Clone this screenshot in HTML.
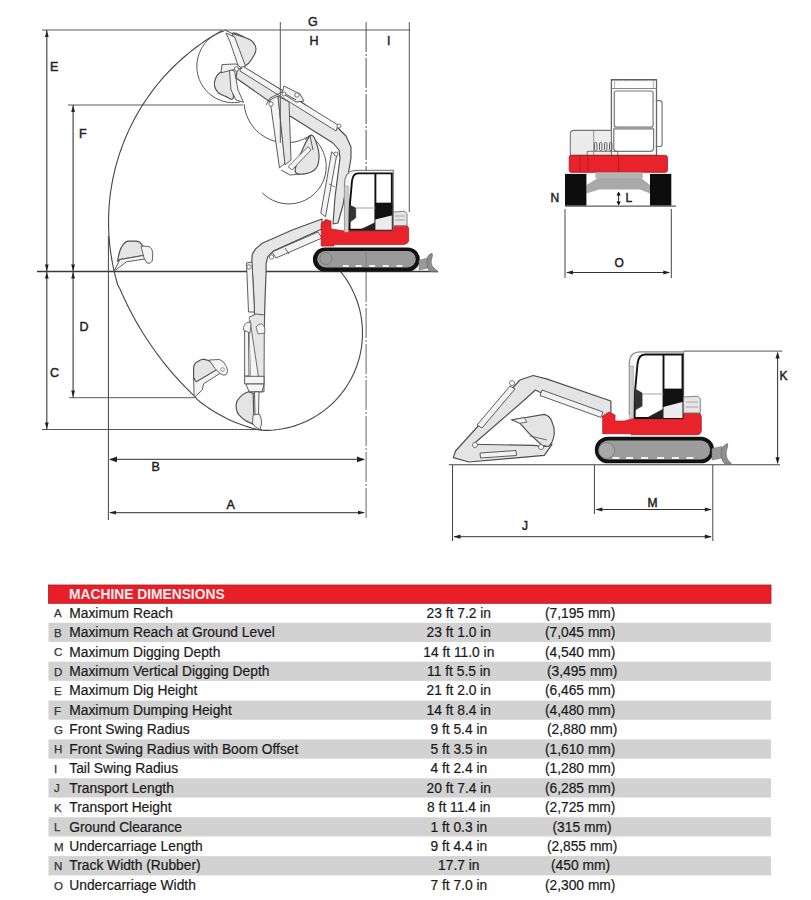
<!DOCTYPE html>
<html><head><meta charset="utf-8">
<style>
html,body{margin:0;padding:0;background:#fff;width:811px;height:900px;overflow:hidden}
svg{position:absolute;left:0;top:0;display:block}
text{font-family:"Liberation Sans",sans-serif}
</style></head>
<body>
<svg width="811" height="900" viewBox="0 0 811 900">
<line x1="42" y1="30" x2="410" y2="30" stroke="#5a5a5a" stroke-width="1.0" />
<line x1="68" y1="105" x2="243" y2="105" stroke="#5a5a5a" stroke-width="1.0" />
<line x1="37" y1="271.5" x2="438" y2="271.5" stroke="#3a3a3a" stroke-width="1.4" />
<line x1="69" y1="397.7" x2="194" y2="397.7" stroke="#5a5a5a" stroke-width="1.0" />
<line x1="42" y1="429.5" x2="262" y2="429.5" stroke="#5a5a5a" stroke-width="1.0" />
<line x1="46.8" y1="30" x2="46.8" y2="429.5" stroke="#3a3a3a" stroke-width="1.1" />
<line x1="73.1" y1="105" x2="73.1" y2="397.7" stroke="#3a3a3a" stroke-width="1.1" />
<path d="M46.8 30.5 L44.9 37.0 L48.7 37.0Z" fill="#222"/>
<path d="M46.8 271.0 L44.9 264.5 L48.7 264.5Z" fill="#222"/>
<path d="M46.8 272.0 L44.9 278.5 L48.7 278.5Z" fill="#222"/>
<path d="M46.8 429.0 L44.9 422.5 L48.7 422.5Z" fill="#222"/>
<path d="M73.1 105.5 L71.2 112.0 L75.0 112.0Z" fill="#222"/>
<path d="M73.1 271.0 L71.2 264.5 L75.0 264.5Z" fill="#222"/>
<path d="M73.1 272.0 L71.2 278.5 L75.0 278.5Z" fill="#222"/>
<path d="M73.1 397.0 L71.2 390.5 L75.0 390.5Z" fill="#222"/>
<line x1="108.4" y1="236" x2="108.4" y2="520" stroke="#444" stroke-width="1.0" />
<line x1="409.3" y1="22" x2="409.3" y2="212" stroke="#555" stroke-width="1.0" />
<line x1="110" y1="459.4" x2="364" y2="459.4" stroke="#555" stroke-width="1.2" />
<path d="M109.0 459.4 L117.0 456.5 L117.0 462.3Z" fill="#222"/>
<path d="M365.0 459.4 L357.0 456.5 L357.0 462.3Z" fill="#222"/>
<line x1="110" y1="512.6" x2="364" y2="512.6" stroke="#555" stroke-width="1.2" />
<path d="M109.0 512.6 L116.0 510.7 L116.0 514.5Z" fill="#222"/>
<path d="M365.0 512.6 L358.0 510.7 L358.0 514.5Z" fill="#222"/>
<text x="50" y="70.5" font-size="12.5" fill="#222" stroke="#222" stroke-width="0.45" text-anchor="start" font-weight="400">E</text>
<text x="79" y="138" font-size="12.5" fill="#222" stroke="#222" stroke-width="0.45" text-anchor="start" font-weight="400">F</text>
<text x="79.5" y="331" font-size="12.5" fill="#222" stroke="#222" stroke-width="0.45" text-anchor="start" font-weight="400">D</text>
<text x="50" y="377" font-size="12.5" fill="#222" stroke="#222" stroke-width="0.45" text-anchor="start" font-weight="400">C</text>
<text x="151.5" y="470.5" font-size="12.5" fill="#222" stroke="#222" stroke-width="0.45" text-anchor="start" font-weight="400">B</text>
<text x="226.5" y="508.5" font-size="12.5" fill="#222" stroke="#222" stroke-width="0.45" text-anchor="start" font-weight="400">A</text>
<text x="308" y="26" font-size="12.5" fill="#222" stroke="#222" stroke-width="0.45" text-anchor="start" font-weight="400">G</text>
<text x="309.5" y="45" font-size="12.5" fill="#222" stroke="#222" stroke-width="0.45" text-anchor="start" font-weight="400">H</text>
<text x="387" y="45" font-size="12.5" fill="#222" stroke="#222" stroke-width="0.45" text-anchor="start" font-weight="400">I</text>
<path d="M222.28 30.51 L217.95 32.93 L213.68 35.45 L209.47 38.07 L205.31 40.79 L201.22 43.60 L197.20 46.50 L193.24 49.49 L189.35 52.57 L185.54 55.73 L181.79 58.99 L178.12 62.32 L174.53 65.74 L171.02 69.25 L167.58 72.83 L164.23 76.48 L160.96 80.21 L157.78 84.02 L154.69 87.90 L151.68 91.84 L148.77 95.86 L145.94 99.94 L143.21 104.08 L140.58 108.28 L138.04 112.54 L135.60 116.86 L133.26 121.23 L131.01 125.66 L128.87 130.13 L126.83 134.65 L124.90 139.22 L123.07 143.83 L121.34 148.48 L119.72 153.17 L118.21 157.89 L116.80 162.65 L115.51 167.44 L114.32 172.25 L113.24 177.10 L112.27 181.96 L111.42 186.85 L110.67 191.75 L110.04 196.67 L109.51 201.60 L109.10 206.55 L108.81 211.50 L108.62 216.46 L108.55 221.42 L108.59 226.38 L108.75 231.33 L109.01 236.29 L109.39 241.23 L109.88 246.17 L110.48 251.09 L111.20 256.00 L112.03 260.89 L112.96 265.76 L114.01 270.61 L115.17 275.44 L116.43 280.23 L117.81 285.00 L120.10 289.19 L121.91 293.35 L123.78 297.49 L125.71 301.60 L127.69 305.68 L129.73 309.74 L131.83 313.76 L133.99 317.76 L136.20 321.72 L138.47 325.65 L140.80 329.55 L143.18 333.42 L145.61 337.25 L148.10 341.05 L150.64 344.81 L153.23 348.53 L155.88 352.22 L158.58 355.87 L161.33 359.48 L164.13 363.06 L166.98 366.59 L169.88 370.08 L172.83 373.53 L175.83 376.94 L178.88 380.30 L181.97 383.63 L185.11 386.90 L188.30 390.14 L191.53 393.33 L194.81 396.47 L197.11 399.41 L199.98 401.72 L202.91 403.96 L205.90 406.12 L208.93 408.22 L212.02 410.24 L215.16 412.18 L218.34 414.04 L221.57 415.82 L224.84 417.53 L228.15 419.15 L231.50 420.69 L234.89 422.15 L238.31 423.52 L241.77 424.81 L245.26 426.01 L248.77 427.13 L252.31 428.16 L255.88 429.10 L259.47 429.95 L264.12 430.39 L268.77 430.33 L273.42 430.05 L278.04 429.55 L282.63 428.83 L287.19 427.88 L291.69 426.72 L296.14 425.35 L300.51 423.77 L304.80 421.98 L309.01 419.98 L313.11 417.79 L317.10 415.40 L320.97 412.83 L324.72 410.07 L328.33 407.14 L331.80 404.04 L335.11 400.77 L338.27 397.36 L341.25 393.79 L344.07 390.09 L346.70 386.25 L349.15 382.30 L351.40 378.23 L353.46 374.06 L355.32 369.79 L356.97 365.45 L358.41 361.02 L359.64 356.54 L360.65 352.00 L361.44 347.41 L362.02 342.80 L362.37 338.16 L362.50 333.51 L362.41 328.86 L362.09 324.22 L361.56 319.60 L360.80 315.01 L359.83 310.46 L358.64 305.97 L357.24 301.53 L355.62 297.17 L353.80 292.89 L351.78 288.70 L349.56 284.61 L347.15 280.64 L344.54 276.78 L341.76 273.05 L338.81 269.46 L335.68 266.02" fill="none" stroke="#444" stroke-width="1.1" stroke-linejoin="round"/>
<path d="M224.27 31.06 L221.58 31.86 L218.97 32.85 L216.44 34.05 L214.00 35.43 L211.68 37.00 L209.49 38.74 L207.44 40.65 L205.55 42.71 L203.81 44.91 L202.25 47.23 L200.88 49.67 L199.69 52.21 L198.71 54.83 L197.93 57.52 L197.36 60.26 L197.00 63.04 L196.85 65.83 L196.92 68.63 L197.21 71.41 L197.71 74.17 L198.42 76.88 L199.34 79.52 L200.46 82.09 L201.77 84.56 L203.27 86.93 L204.95 89.17 L206.79 91.28 L208.79 93.23 L210.94 95.03 L213.21 96.66 L215.61 98.11 L218.11 99.37 L220.70 100.43 L223.36 101.29 L226.09 101.95 L228.85 102.39 L231.64 102.62 L234.44 102.63 L237.23 102.43 L240.00 102.01" fill="none" stroke="#555" stroke-width="1.0" stroke-linejoin="round"/>
<path d="M244.16 104.23 L244.51 107.14 L245.07 110.03 L245.82 112.87 L246.78 115.65 L247.92 118.36 L249.25 120.98 L250.76 123.50 L252.44 125.92 L254.28 128.20 L256.28 130.36 L258.42 132.37 L260.70 134.23 L263.11 135.92 L265.62 137.44 L268.23 138.78 L270.94 139.94 L273.71 140.91 L276.55 141.68 L279.43 142.25 L282.35 142.62 L285.28 142.79 L288.22 142.75 L291.15 142.51 L294.06 142.06 L296.92 141.42 L299.74 140.57 L302.49 139.53 L305.16 138.30 L307.74 136.89 L310.21 135.30" fill="none" stroke="#555" stroke-width="1.0" stroke-linejoin="round"/>
<path d="M310.15 135.79 L312.62 137.67 L314.93 139.75 L317.07 142.01 L319.00 144.44 L320.73 147.02 L322.24 149.74 L323.51 152.58 L324.55 155.51 L325.34 158.51 L325.87 161.57 L326.16 164.67 L326.18 167.78 L325.94 170.88 L325.45 173.95 L324.71 176.96 L323.71 179.91 L322.48 182.76 L321.01 185.50 L319.32 188.11 L317.42 190.57 L315.33 192.86 L313.05 194.98 L310.60 196.89 L308.00 198.60 L305.27 200.08 L302.42 201.33 L299.48 202.34 L296.47 203.10 L293.41 203.62 L290.31 203.87 L287.20 203.87 L284.10 203.60 L281.04 203.09 L278.03 202.31 L275.09 201.30 L272.25 200.04 L269.52 198.55 L266.93 196.84 L264.48 194.92 L262.21 192.80" fill="none" stroke="#555" stroke-width="1.0" stroke-linejoin="round"/>
<path d="M238.0 64.0 L300.0 101.0 L338.0 128.0 L346.0 136.0 L351.0 147.0 L351.0 158.0 L343.0 205.0 L338.0 223.0 L333.0 224.0 L335.0 197.0 L340.0 158.0 L339.0 150.0 L333.0 143.0 L290.0 116.0 L236.0 78.0Z" fill="#e6e6e6" stroke="#4d4d4d" stroke-width="1.15" stroke-linejoin="round" />
<path d="M241.0 65.0 L338.0 125.0 L336.0 131.0 L240.0 71.0Z" fill="#f5f5f5" stroke="#4d4d4d" stroke-width="0.9" stroke-linejoin="round" />
<path d="M284.0 86.0 L300.0 94.0 L304.0 101.0 L296.0 102.0 L282.0 93.0Z" fill="#f0f0f0" stroke="#4d4d4d" stroke-width="0.9" stroke-linejoin="round" />
<circle cx="297" cy="95" r="2.2" fill="#fff" stroke="#555" stroke-width="0.8"/>
<circle cx="339" cy="126" r="2" fill="#fff" stroke="#555" stroke-width="0.8"/>
<path d="M331.7 151.7 L336.5 156.0 L325.5 216.7 L320.8 213.3Z" fill="#f4f4f4" stroke="#4d4d4d" stroke-width="0.9" stroke-linejoin="round" />
<path d="M329.0 184.0 L335.0 187.0" fill="none" stroke="#4d4d4d" stroke-width="0.7" stroke-linejoin="round"/>
<circle cx="336" cy="154" r="2" fill="#fff" stroke="#555" stroke-width="0.8"/>
<path d="M233.0 33.0 C234.5 32.2 240.8 35.6 244.0 37.0 C247.2 38.4 250.3 39.2 252.3 41.3 C254.3 43.4 256.0 46.6 256.0 49.4 C256.0 52.2 253.9 55.7 252.3 58.3 C250.7 60.9 248.3 64.0 246.4 65.0 C244.5 66.0 242.9 67.8 241.0 64.0 C239.1 60.2 236.3 47.2 235.0 42.0 C233.7 36.8 231.5 33.8 233.0 33.0Z" fill="#e6e6e6" stroke="#4d4d4d" stroke-width="1.15"/>
<path d="M226.0 33.0 L234.6 37.0 L245.5 66.0 L239.0 68.0 L230.0 42.0Z" fill="#f4f4f4" stroke="#4d4d4d" stroke-width="0.9" stroke-linejoin="round" />
<path d="M224.6 29.8 L232.0 33.5 L244.0 37.0" fill="none" stroke="#4d4d4d" stroke-width="1" stroke-linejoin="round"/>
<path d="M229.4 69.0 C227.4 67.1 222.1 71.2 219.8 72.8 C217.5 74.4 216.3 76.5 215.4 78.7 C214.5 80.9 214.1 83.8 214.6 86.1 C215.1 88.4 216.5 91.0 218.3 92.7 C220.2 94.4 223.2 95.4 225.7 96.4 C228.2 97.4 232.0 100.7 233.1 98.6 C234.2 96.5 232.6 88.9 232.0 84.0 C231.4 79.1 231.4 70.9 229.4 69.0Z" fill="#e6e6e6" stroke="#4d4d4d" stroke-width="1.15"/>
<path d="M229.4 69.0 L234.6 71.3 L238.0 90.0 L243.5 102.3 L236.0 100.0 L231.0 90.0Z" fill="#f4f4f4" stroke="#4d4d4d" stroke-width="0.9" stroke-linejoin="round" />
<path d="M222.0 64.6 L236.0 63.9 L242.0 68.3 L232.0 70.0 L221.0 72.8Z" fill="#f0f0f0" stroke="#4d4d4d" stroke-width="0.9" stroke-linejoin="round" />
<circle cx="236.5" cy="69" r="2.2" fill="#fff" stroke="#555" stroke-width="0.8"/>
<path d="M270.0 100.0 L278.0 96.0 L285.0 163.0 L279.5 168.0Z" fill="#f4f4f4" stroke="#4d4d4d" stroke-width="0.9" stroke-linejoin="round" />
<path d="M278.0 96.0 L289.0 102.0 L291.0 160.0 L285.0 165.0Z" fill="#e6e6e6" stroke="#4d4d4d" stroke-width="0.9" stroke-linejoin="round" />
<path d="M266.0 105.0 L270.0 98.0 L282.0 92.0 L296.0 100.0" fill="none" stroke="#4d4d4d" stroke-width="0.9" stroke-linejoin="round"/>
<circle cx="271" cy="104" r="2.2" fill="#fff" stroke="#555" stroke-width="0.8"/>
<circle cx="284" cy="94" r="2" fill="#fff" stroke="#555" stroke-width="0.8"/>
<path d="M310.0 135.8 C313.6 132.6 316.1 142.1 317.5 146.7 C318.9 151.3 319.3 159.1 318.3 163.3 C317.3 167.5 315.1 169.9 311.7 171.7 C308.3 173.5 300.6 174.9 298.0 174.0 C295.4 173.1 294.0 172.4 296.0 166.0 C298.0 159.6 306.4 139.0 310.0 135.8Z" fill="#e6e6e6" stroke="#4d4d4d" stroke-width="1.15"/>
<path d="M288.0 166.7 L308.0 146.7 L311.0 150.0 L292.0 170.0Z" fill="#f4f4f4" stroke="#4d4d4d" stroke-width="0.8" stroke-linejoin="round" />
<path d="M305.0 140.0 L310.0 135.8 L313.0 150.0" fill="none" stroke="#4d4d4d" stroke-width="0.9" stroke-linejoin="round"/>
<path d="M281.0 170.0 L290.0 175.0 L300.0 174.0" fill="none" stroke="#4d4d4d" stroke-width="0.9" stroke-linejoin="round"/>
<path d="M322.0 219.0 L292.2 230.0 L262.2 243.3 L255.6 248.9 L252.2 254.4 L251.7 263.3 L253.3 285.6 L255.0 326.0 L264.3 326.0 L265.0 300.0 L266.1 272.0 L266.1 263.3 L267.8 256.7 L273.3 251.1 L322.0 229.0Z" fill="#e6e6e6" stroke="#4d4d4d" stroke-width="1.15" stroke-linejoin="round" />
<path d="M318.0 232.0 L322.0 238.0 L276.0 258.0 L272.0 252.0Z" fill="#f2f2f2" stroke="#4d4d4d" stroke-width="0.9" stroke-linejoin="round" />
<path d="M285.0 248.0 L289.0 254.0" fill="none" stroke="#4d4d4d" stroke-width="0.8" stroke-linejoin="round"/>
<circle cx="271.5" cy="257" r="2.2" fill="#fff" stroke="#555" stroke-width="0.8"/>
<path d="M246.5 263.0 L252.0 262.0 L254.5 312.0 L248.5 312.0Z" fill="#f4f4f4" stroke="#4d4d4d" stroke-width="0.9" stroke-linejoin="round" />
<circle cx="249" cy="267" r="2.2" fill="#fff" stroke="#555" stroke-width="0.8"/>
<path d="M249.3 317.0 L256.0 314.0 L264.5 315.0 L264.3 327.0 L264.0 391.8 L250.8 391.8 L250.8 376.0Z" fill="#e6e6e6" stroke="#4d4d4d" stroke-width="0.9" stroke-linejoin="round" />
<path d="M249.3 317.0 L250.8 376.0 L258.6 377.8 L250.0 320.0Z" fill="#f4f4f4" stroke="#4d4d4d" stroke-width="0" stroke-linejoin="round" />
<path d="M250.0 320.0 L258.6 377.8" fill="none" stroke="#4d4d4d" stroke-width="0.8" stroke-linejoin="round"/>
<path d="M244.6 331.0 L248.5 331.0 L249.0 376.0 L244.6 376.0Z" fill="#f4f4f4" stroke="#4d4d4d" stroke-width="0.9" stroke-linejoin="round" />
<path d="M243.5 330 Q243 324 248 322 L251 323 L250 333 Z" fill="#f4f4f4" stroke="#555" stroke-width="0.8"/>
<path d="M256 327 Q258 323 262 324 Q266 327 264.5 333 L258 334 Z" fill="#f4f4f4" stroke="#555" stroke-width="0.8"/>
<path d="M244.6 376.3 L264.0 376.3 L264.0 384.0 L244.6 384.0Z" fill="#f4f4f4" stroke="#4d4d4d" stroke-width="0.9" stroke-linejoin="round" />
<path d="M246.0 384.0 L264.0 384.0 L262.0 391.8 L249.0 391.8Z" fill="#f4f4f4" stroke="#4d4d4d" stroke-width="0.9" stroke-linejoin="round" />
<path d="M248.5 391.8 C244 393 240 396.5 237 401 C235 406 236.5 412 239.1 415.2 C242 418.5 246.9 421.4 246.9 421.4 L253.9 424.5 L253.2 393.4 Z" fill="#e4e4e4" stroke="#4d4d4d" stroke-width="1.15"/>
<path d="M254.5 391.8 L259.0 391.8 L258.5 415.2 L255.0 415.2Z" fill="#f4f4f4" stroke="#4d4d4d" stroke-width="0.9" stroke-linejoin="round" />
<path d="M253 415 L259.5 414 Q262 419 261.5 424 L260 429.5 Q255 428 252.5 423 Z" fill="#f4f4f4" stroke="#555" stroke-width="0.9"/>
<path d="M117.6 261 C118.5 255 119.5 250 122 246.3 C124 243 126 241.1 128.7 241.1 L136 241.1 C139 241.1 140.5 242.5 142 244.8 L146.4 251.4 L145.7 255.1 L119.8 259.6 Z" fill="#e4e4e4" stroke="#4d4d4d" stroke-width="1.15"/>
<path d="M119.8 259.6 L145.7 255.1 L146.4 258.8 L126.4 261.8 L113.9 271.4Z" fill="#f4f4f4" stroke="#4d4d4d" stroke-width="0.9" stroke-linejoin="round" />
<path d="M141 246 L149 246.5 Q152.5 248 152.8 253 L152.3 261 Q150.5 264.5 147 263 L144 258 Z" fill="#f4f4f4" stroke="#555" stroke-width="0.9"/>
<path d="M193.6 377.7 L193.6 367.3 C194 364 195.5 362.5 197.3 361.7 C199.5 360 201.5 359.3 203.5 359.2 L208.4 360.5 L219.5 367.3 L218.9 368.5 L196.1 382 Z" fill="#e4e4e4" stroke="#4d4d4d" stroke-width="1.15"/>
<path d="M196.1 382.0 L218.9 368.5 L220.8 372.8 L203.5 383.9 L202.3 390.0 L194.2 397.5 L193.6 377.7Z" fill="#f4f4f4" stroke="#4d4d4d" stroke-width="0.9" stroke-linejoin="round" />
<path d="M209 360 L219.5 359.5 Q223.5 360.5 226.5 366.5 Q228.5 372 226 374.8 Q223 376 220 373.5 L215 368.5 Z" fill="#f4f4f4" stroke="#555" stroke-width="0.9"/>
<circle cx="222.5" cy="369.5" r="1.8" fill="#fff" stroke="#666" stroke-width="0.7"/>
<line x1="280.3" y1="22" x2="280.3" y2="143" stroke="#555" stroke-width="1.0" />
<path d="M321.2 223.3 L326 219.6 L331 221 L331 229 L344.5 231 L393.4 231 L393.4 225 L405 225 Q408.6 225 408.6 230 L408.6 240 Q408.6 244.6 402 244.6 L334 244.6 L334 246 L321.2 246 Z" fill="#e8232b" stroke="#b31e26" stroke-width="0.8"/>
<path d="M344.5 230.5 L344.5 184 Q345 170.4 356 170.4 L393.4 170.4 L393.4 227" fill="#f7f7f7" stroke="#888" stroke-width="1.2"/>
<rect x="344.6" y="186" width="3.6" height="46" fill="#cfcfcf" stroke="#999" stroke-width="0.6"/>
<path d="M349.5 229.7 L350 203 L352 181 Q353 173.4 358 173.4 L391.8 173.4 L391.8 229.7 Z" fill="#fff" stroke="#111" stroke-width="1.9"/>
<line x1="375.4" y1="173.6" x2="375.4" y2="229.7" stroke="#111" stroke-width="1.9"/>
<path d="M375.4 203.1 L391.8 203.1 L391.8 215.6 L375.4 219.5Z" fill="#111" stroke="#111" stroke-width="0.8" stroke-linejoin="round" />
<path d="M360.6 229.7 L375.4 222.6 L375.4 229.7Z" fill="#222" stroke="#222" stroke-width="0.8" stroke-linejoin="round" />
<path d="M349.3 204.9 L355.7 208.0 L355.7 217.7 L349.3 222.5Z" fill="#333" stroke="#333" stroke-width="0.8" stroke-linejoin="round" />
<path d="M355.7 208.0 L375.4 208.0" fill="none" stroke="#999" stroke-width="0.9" stroke-linejoin="round"/>
<path d="M375.4 219.5 L391.8 215.6 L391.8 229.7 L375.4 229.7Z" fill="#ececec" stroke="none" stroke-width="0" stroke-linejoin="round" />
<path d="M393.4 212.0 L405.0 211.3 L407.0 214.0 L407.0 225.7 L393.4 225.7Z" fill="#e6e6e6" stroke="#777" stroke-width="0.9" stroke-linejoin="round" />
<path d="M395.0 216.0 L405.0 216.0" fill="none" stroke="#888" stroke-width="0.7" stroke-linejoin="round"/>
<path d="M395.0 220.0 L405.0 220.0" fill="none" stroke="#888" stroke-width="0.7" stroke-linejoin="round"/>
<rect x="312.9" y="247.4" width="106.9" height="24" rx="12" fill="#111"/>
<rect x="317.2" y="251" width="98.6" height="16.4" rx="8.2" fill="#9a9a9a"/>
<circle cx="326" cy="258.5" r="6" fill="none" stroke="#777" stroke-width="0.8"/>
<rect x="342.9" y="265" width="5.8" height="2" fill="#f2f2f2"/>
<rect x="355.7" y="265" width="5.8" height="2" fill="#f2f2f2"/>
<rect x="369.3" y="265" width="5.8" height="2" fill="#f2f2f2"/>
<rect x="382.9" y="265" width="5.8" height="2" fill="#f2f2f2"/>
<rect x="396.6" y="265" width="5.8" height="2" fill="#f2f2f2"/>
<path d="M419.0 260.3 L428.0 258.0 L428.0 268.0 L419.0 270.0Z" fill="#9a9a9a" stroke="#777" stroke-width="0.6" stroke-linejoin="round" />
<path d="M432 253.3 C429 254.5 427.7 256 427.5 258 C427 261 426.8 264 427.5 266.5 C428 269 429 270.5 430 271.5 L438.2 271.8 C435 269 433 267 432 265.9 C431 263 431 261.5 431.5 259 C432.2 257 432.8 255 432 253.3 Z" fill="#8e8e8e" stroke="#666" stroke-width="0.7"/>
<line x1="366.1" y1="22" x2="366.1" y2="171" stroke="#555" stroke-width="1.0" stroke-dasharray="30 2 2 2"/>
<line x1="366.1" y1="272" x2="366.1" y2="520" stroke="#666" stroke-width="1.0" stroke-dasharray="30 2 2 2"/>
<line x1="366.1" y1="252" x2="366.1" y2="266" stroke="#7a7a7a" stroke-width="0.8" />
<rect x="611.4" y="79.7" width="45.1" height="75.7" fill="#fff" stroke="#666" stroke-width="1.3"/>
<path d="M611.4 79.7 L656.5 79.7" stroke="#555" stroke-width="1.4" stroke-dasharray="1.5 1"/>
<line x1="611.4" y1="88.5" x2="656.5" y2="88.5" stroke="#888" stroke-width="1"/>
<line x1="614.6" y1="80" x2="614.6" y2="88.5" stroke="#999" stroke-width="0.8"/>
<line x1="653.3" y1="80" x2="653.3" y2="88.5" stroke="#999" stroke-width="0.8"/>
<rect x="614.3" y="91" width="38.8" height="36.2" rx="2" fill="#fff" stroke="#777" stroke-width="1.2"/>
<path d="M613.8 128.8 L653.6 128.8 L653.6 148 Q653.6 151.3 650 151.3 L617 151.3 Q613.8 151.3 613.8 148 Z" fill="#fff" stroke="#777" stroke-width="1.2"/>
<path d="M655.7 100.6 L660 100.6 Q662.1 100.6 662.1 103 L662.1 144 Q662.1 146.5 660 146.5 L655.7 146.5" fill="none" stroke="#777" stroke-width="1.2"/>
<path d="M570.3 155.4 L570.3 134 Q570.3 130.4 574 130.4 L611.4 130.4 L611.4 155.4 Z" fill="#ececec" stroke="#777" stroke-width="1.1"/>
<line x1="593.7" y1="130.4" x2="593.7" y2="155" stroke="#888" stroke-width="0.9"/>
<rect x="594.5" y="142.5" width="2.4" height="8" rx="1" fill="none" stroke="#555" stroke-width="0.9"/>
<rect x="599.5" y="142.5" width="2.4" height="8" rx="1" fill="none" stroke="#555" stroke-width="0.9"/>
<rect x="604.5" y="142.5" width="2.4" height="8" rx="1" fill="none" stroke="#555" stroke-width="0.9"/>
<rect x="609.5" y="142.5" width="2.4" height="8" rx="1" fill="none" stroke="#555" stroke-width="0.9"/>
<path d="M587.2 155 L587.2 151.3 L617.8 151.3 L617.8 155" fill="none" stroke="#666" stroke-width="0.9"/>
<rect x="569.2" y="155.4" width="98.2" height="16.9" rx="2" fill="#e8232b" stroke="#a81c22" stroke-width="0.9"/>
<line x1="580" y1="156" x2="580" y2="171.5" stroke="#a51c22" stroke-width="0.8"/>
<line x1="588" y1="156" x2="588" y2="171.5" stroke="#a51c22" stroke-width="0.8"/>
<line x1="618.6" y1="156" x2="618.6" y2="171.5" stroke="#a51c22" stroke-width="0.8"/>
<rect x="595.3" y="172.3" width="47.5" height="6" fill="#b5b5b5"/>
<path d="M586.4 185 L598 178 L641 178 L650 185 L650 193.5 L640 189.5 L599 189.5 L586.4 193.5 Z" fill="#a9a9a9"/>
<rect x="565" y="173.9" width="21.4" height="31.7" fill="#0d0d0d"/>
<rect x="650" y="173.9" width="21.3" height="31.7" fill="#0d0d0d"/>
<line x1="565" y1="206.1" x2="676" y2="206.1" stroke="#333" stroke-width="1"/>
<line x1="618.6" y1="193" x2="618.6" y2="204.5" stroke="#222" stroke-width="1"/>
<path d="M618.6 191.6 L616.4 195.6 L620.8 195.6Z" fill="#111"/>
<path d="M618.6 205.6 L616.4 201.6 L620.8 201.6Z" fill="#111"/>
<text x="625.5" y="202.3" font-size="12" fill="#222" stroke="#222" stroke-width="0.45" text-anchor="start" font-weight="400">L</text>
<text x="550.5" y="202.3" font-size="12" fill="#222" stroke="#222" stroke-width="0.45" text-anchor="start" font-weight="400">N</text>
<line x1="565" y1="209" x2="565" y2="278" stroke="#444" stroke-width="1" />
<line x1="671.3" y1="209" x2="671.3" y2="278" stroke="#444" stroke-width="1" />
<line x1="567" y1="272.5" x2="669" y2="272.5" stroke="#333" stroke-width="1" />
<path d="M566.0 272.5 L573.0 270.4 L573.0 274.6Z" fill="#222"/>
<path d="M670.3 272.5 L663.3 270.4 L663.3 274.6Z" fill="#222"/>
<text x="614.5" y="267.3" font-size="12" fill="#222" stroke="#222" stroke-width="0.45" text-anchor="start" font-weight="400">O</text>
<path d="M610.9 401.0 L546.5 378.9 L533.2 375.5 L519.9 380.0 L455.5 451.0 L453.3 457.6 L468.9 462.0 L544.3 455.4 L552.0 444.3 L544.3 446.5 L533.2 445.4 L473.3 444.3 L524.3 400.0 L535.4 390.0 L542.0 393.3 L610.9 419.9Z" fill="#e4e4e4" stroke="#4d4d4d" stroke-width="1.15" stroke-linejoin="round" />
<path d="M542.0 390.0 L603.0 412.0 L601.0 417.5 L540.0 395.5Z" fill="#f2f2f2" stroke="#4d4d4d" stroke-width="0.9" stroke-linejoin="round" />
<path d="M510.0 386.0 L515.0 389.0 L482.0 428.0 L477.0 425.0Z" fill="#f2f2f2" stroke="#4d4d4d" stroke-width="0.9" stroke-linejoin="round" />
<path d="M480.0 453.0 L516.0 450.5 L516.5 455.5 L480.5 458.0Z" fill="#f2f2f2" stroke="#4d4d4d" stroke-width="0.9" stroke-linejoin="round" />
<path d="M512.1 419.9 L524.3 417.7 L544.3 414.4 C548.5 415.5 551 418.5 552 422.1 C553.8 426 554.5 430 554.3 433.2 C554 437 553 440 552 442.1 L548.7 446.5 L542.1 445.4 L528.8 433.2 L519.9 423.2 Z" fill="#e4e4e4" stroke="#4d4d4d" stroke-width="1.15"/>
<path d="M512.1 419.9 L524.3 417.7 L527.0 422.0 L519.9 423.2Z" fill="#f4f4f4" stroke="#4d4d4d" stroke-width="0.8" stroke-linejoin="round" />
<path d="M530.0 436.0 L547.0 440.0" fill="none" stroke="#4d4d4d" stroke-width="0.8" stroke-linejoin="round"/>
<circle cx="541" cy="447" r="2.5" fill="#fff" stroke="#555" stroke-width="0.8"/>
<circle cx="475" cy="445" r="2.5" fill="#fff" stroke="#555" stroke-width="0.8"/>
<circle cx="512" cy="383" r="2.5" fill="#fff" stroke="#555" stroke-width="0.8"/>
<path d="M602.7 416 L609 412 L615 415 L615 421 L625 421 L631.3 418.9 L683.6 418.9 L683.6 413 L698 413 Q701.3 413 701.3 417 L701.3 430 Q701.3 434.7 697 434.7 L631 434.7 L631 433.7 L602.7 433.7 Z" fill="#e8232b" stroke="#b81e25" stroke-width="0.8"/>
<path d="M629.3 415 L629.3 362 Q630 351.8 640 351.8 L683.6 351.8 L683.6 414" fill="#f7f7f7" stroke="#888" stroke-width="1.2"/>
<rect x="629.6" y="366" width="3.6" height="52" fill="#cfcfcf" stroke="#999" stroke-width="0.6"/>
<path d="M634.6 418 L635 392 L637.5 364 Q638.5 354.5 645 354.5 L682.5 354.5 L682.5 418 Z" fill="#fff" stroke="#111" stroke-width="1.9"/>
<line x1="663.5" y1="354.5" x2="663.5" y2="418" stroke="#111" stroke-width="1.9"/>
<path d="M663.5 389.0 L682.5 389.0 L682.5 402.0 L663.5 407.0Z" fill="#111" stroke="#111" stroke-width="0.8" stroke-linejoin="round" />
<path d="M647.0 418.0 L663.5 409.0 L663.5 418.0Z" fill="#222" stroke="#222" stroke-width="0.8" stroke-linejoin="round" />
<path d="M635.0 389.0 L642.0 393.0 L642.0 406.0 L635.0 410.0Z" fill="#333" stroke="#333" stroke-width="0.8" stroke-linejoin="round" />
<path d="M642.0 394.0 L663.5 394.0" fill="none" stroke="#999" stroke-width="0.9" stroke-linejoin="round"/>
<path d="M663.5 407.0 L682.5 402.0 L682.5 418.0 L663.5 418.0Z" fill="#ececec" stroke="none" stroke-width="0" stroke-linejoin="round" />
<path d="M683.6 397.0 L698.0 396.2 L700.3 399.0 L700.3 413.0 L683.6 413.0Z" fill="#e6e6e6" stroke="#777" stroke-width="0.9" stroke-linejoin="round" />
<path d="M686.0 402.0 L698.0 402.0" fill="none" stroke="#888" stroke-width="0.7" stroke-linejoin="round"/>
<path d="M686.0 407.0 L698.0 407.0" fill="none" stroke="#888" stroke-width="0.7" stroke-linejoin="round"/>
<rect x="594.8" y="436.7" width="119.3" height="26.6" rx="13.3" fill="#111"/>
<rect x="598.7" y="440.6" width="111.5" height="18.8" rx="9.4" fill="#9c9c9c"/>
<circle cx="606.6" cy="450.5" r="8" fill="#a8a8a8" stroke="#777" stroke-width="0.8"/>
<rect x="612.5" y="457" width="7" height="2" fill="#f2f2f2"/>
<rect x="626" y="457" width="7" height="2" fill="#f2f2f2"/>
<rect x="641" y="457" width="7" height="2" fill="#f2f2f2"/>
<rect x="657" y="457" width="7" height="2" fill="#f2f2f2"/>
<rect x="672" y="457" width="7" height="2" fill="#f2f2f2"/>
<rect x="686.5" y="457" width="7" height="2" fill="#f2f2f2"/>
<path d="M712.0 448.5 L722.0 446.5 L722.0 458.0 L712.0 460.0Z" fill="#9a9a9a" stroke="#777" stroke-width="0.6" stroke-linejoin="round" />
<path d="M727.5 443.6 C724 445 722 447.5 721.5 450 C721 453 721 456 721.8 458.5 C722.5 461 723.5 462.5 724.5 463.5 L731.5 463.8 C729 461.5 727.5 459.5 726.8 457.8 C726 455 726 453 726.5 450.5 C727.2 448 728 446 727.5 443.6 Z" fill="#8e8e8e" stroke="#666" stroke-width="0.7"/>
<line x1="448.8" y1="464.8" x2="780" y2="464.8" stroke="#444" stroke-width="1.1" />
<line x1="683.7" y1="351.1" x2="782.4" y2="351.1" stroke="#555" stroke-width="1" />
<line x1="777.6" y1="353" x2="777.6" y2="463" stroke="#333" stroke-width="1" />
<path d="M777.6 351.6 L775.5 358.6 L779.7 358.6Z" fill="#222"/>
<path d="M777.6 464.3 L775.5 457.3 L779.7 457.3Z" fill="#222"/>
<text x="779.5" y="379.5" font-size="12" fill="#222" stroke="#222" stroke-width="0.45" text-anchor="start" font-weight="400">K</text>
<line x1="452.5" y1="465" x2="452.5" y2="541" stroke="#444" stroke-width="1" />
<line x1="712.8" y1="465" x2="712.8" y2="541" stroke="#444" stroke-width="1" />
<line x1="454" y1="536.7" x2="711" y2="536.7" stroke="#333" stroke-width="1" />
<path d="M453.5 536.7 L460.5 534.6 L460.5 538.8Z" fill="#222"/>
<path d="M711.8 536.7 L704.8 534.6 L704.8 538.8Z" fill="#222"/>
<text x="522" y="530" font-size="12" fill="#222" stroke="#222" stroke-width="0.45" text-anchor="start" font-weight="400">J</text>
<line x1="594.4" y1="465" x2="594.4" y2="514" stroke="#444" stroke-width="1" />
<line x1="596" y1="509.5" x2="711" y2="509.5" stroke="#333" stroke-width="1" />
<path d="M595.4 509.5 L602.4 507.4 L602.4 511.6Z" fill="#222"/>
<path d="M711.8 509.5 L704.8 507.4 L704.8 511.6Z" fill="#222"/>
<text x="647.5" y="506.5" font-size="12" fill="#222" stroke="#222" stroke-width="0.45" text-anchor="start" font-weight="400">M</text>

<rect x="48.5" y="585" width="722.5" height="18.3" fill="#e61f28"/>
<rect x="48.5" y="585" width="722.5" height="18.3" fill="none" stroke="#b3141c" stroke-width="0.8"/>
<text x="69" y="599.3" font-size="13.8" font-weight="700" fill="#fbeef0">MACHINE DIMENSIONS</text>
<text x="54" y="617.30" font-size="11.5" fill="#333" stroke="#333" stroke-width="0.25">A</text>
<text x="69.3" y="617.60" font-size="13.8" fill="#1a1a1a" stroke="#1a1a1a" stroke-width="0.2">Maximum Reach</text>
<text x="458.8" y="617.60" font-size="13.8" fill="#1a1a1a" stroke="#1a1a1a" stroke-width="0.2" text-anchor="middle">23 ft 7.2 in</text>
<text x="580.2" y="617.60" font-size="13.8" fill="#1a1a1a" stroke="#1a1a1a" stroke-width="0.2" text-anchor="middle">(7,195 mm)</text>
<rect x="48.5" y="622.75" width="722.5" height="19.2" fill="#d2d2d2"/>
<text x="54" y="636.75" font-size="11.5" fill="#333" stroke="#333" stroke-width="0.25">B</text>
<text x="69.3" y="637.05" font-size="13.8" fill="#1a1a1a" stroke="#1a1a1a" stroke-width="0.2">Maximum Reach at Ground Level</text>
<text x="458.8" y="637.05" font-size="13.8" fill="#1a1a1a" stroke="#1a1a1a" stroke-width="0.2" text-anchor="middle">23 ft 1.0 in</text>
<text x="580.2" y="637.05" font-size="13.8" fill="#1a1a1a" stroke="#1a1a1a" stroke-width="0.2" text-anchor="middle">(7,045 mm)</text>
<text x="54" y="656.20" font-size="11.5" fill="#333" stroke="#333" stroke-width="0.25">C</text>
<text x="69.3" y="656.50" font-size="13.8" fill="#1a1a1a" stroke="#1a1a1a" stroke-width="0.2">Maximum Digging Depth</text>
<text x="458.8" y="656.50" font-size="13.8" fill="#1a1a1a" stroke="#1a1a1a" stroke-width="0.2" text-anchor="middle">14 ft 11.0 in</text>
<text x="580.2" y="656.50" font-size="13.8" fill="#1a1a1a" stroke="#1a1a1a" stroke-width="0.2" text-anchor="middle">(4,540 mm)</text>
<rect x="48.5" y="661.65" width="722.5" height="19.2" fill="#d2d2d2"/>
<text x="54" y="675.65" font-size="11.5" fill="#333" stroke="#333" stroke-width="0.25">D</text>
<text x="69.3" y="675.95" font-size="13.8" fill="#1a1a1a" stroke="#1a1a1a" stroke-width="0.2">Maximum Vertical Digging Depth</text>
<text x="458.8" y="675.95" font-size="13.8" fill="#1a1a1a" stroke="#1a1a1a" stroke-width="0.2" text-anchor="middle">11 ft 5.5 in</text>
<text x="582.2" y="675.95" font-size="13.8" fill="#1a1a1a" stroke="#1a1a1a" stroke-width="0.2" text-anchor="middle">(3,495 mm)</text>
<text x="54" y="695.10" font-size="11.5" fill="#333" stroke="#333" stroke-width="0.25">E</text>
<text x="69.3" y="695.40" font-size="13.8" fill="#1a1a1a" stroke="#1a1a1a" stroke-width="0.2">Maximum Dig Height</text>
<text x="458.8" y="695.40" font-size="13.8" fill="#1a1a1a" stroke="#1a1a1a" stroke-width="0.2" text-anchor="middle">21 ft 2.0 in</text>
<text x="580.2" y="695.40" font-size="13.8" fill="#1a1a1a" stroke="#1a1a1a" stroke-width="0.2" text-anchor="middle">(6,465 mm)</text>
<rect x="48.5" y="700.55" width="722.5" height="19.2" fill="#d2d2d2"/>
<text x="54" y="714.55" font-size="11.5" fill="#333" stroke="#333" stroke-width="0.25">F</text>
<text x="69.3" y="714.85" font-size="13.8" fill="#1a1a1a" stroke="#1a1a1a" stroke-width="0.2">Maximum Dumping Height</text>
<text x="458.8" y="714.85" font-size="13.8" fill="#1a1a1a" stroke="#1a1a1a" stroke-width="0.2" text-anchor="middle">14 ft 8.4 in</text>
<text x="580.2" y="714.85" font-size="13.8" fill="#1a1a1a" stroke="#1a1a1a" stroke-width="0.2" text-anchor="middle">(4,480 mm)</text>
<text x="54" y="734.00" font-size="11.5" fill="#333" stroke="#333" stroke-width="0.25">G</text>
<text x="69.3" y="734.30" font-size="13.8" fill="#1a1a1a" stroke="#1a1a1a" stroke-width="0.2">Front Swing Radius</text>
<text x="458.8" y="734.30" font-size="13.8" fill="#1a1a1a" stroke="#1a1a1a" stroke-width="0.2" text-anchor="middle">9 ft 5.4 in</text>
<text x="582.2" y="734.30" font-size="13.8" fill="#1a1a1a" stroke="#1a1a1a" stroke-width="0.2" text-anchor="middle">(2,880 mm)</text>
<rect x="48.5" y="739.45" width="722.5" height="19.2" fill="#d2d2d2"/>
<text x="54" y="753.45" font-size="11.5" fill="#333" stroke="#333" stroke-width="0.25">H</text>
<text x="69.3" y="753.75" font-size="13.8" fill="#1a1a1a" stroke="#1a1a1a" stroke-width="0.2">Front Swing Radius with Boom Offset</text>
<text x="458.8" y="753.75" font-size="13.8" fill="#1a1a1a" stroke="#1a1a1a" stroke-width="0.2" text-anchor="middle">5 ft 3.5 in</text>
<text x="580.2" y="753.75" font-size="13.8" fill="#1a1a1a" stroke="#1a1a1a" stroke-width="0.2" text-anchor="middle">(1,610 mm)</text>
<text x="54" y="772.90" font-size="11.5" fill="#333" stroke="#333" stroke-width="0.25">I</text>
<text x="69.3" y="773.20" font-size="13.8" fill="#1a1a1a" stroke="#1a1a1a" stroke-width="0.2">Tail Swing Radius</text>
<text x="458.8" y="773.20" font-size="13.8" fill="#1a1a1a" stroke="#1a1a1a" stroke-width="0.2" text-anchor="middle">4 ft 2.4 in</text>
<text x="580.2" y="773.20" font-size="13.8" fill="#1a1a1a" stroke="#1a1a1a" stroke-width="0.2" text-anchor="middle">(1,280 mm)</text>
<rect x="48.5" y="778.35" width="722.5" height="19.2" fill="#d2d2d2"/>
<text x="54" y="792.35" font-size="11.5" fill="#333" stroke="#333" stroke-width="0.25">J</text>
<text x="69.3" y="792.65" font-size="13.8" fill="#1a1a1a" stroke="#1a1a1a" stroke-width="0.2">Transport Length</text>
<text x="458.8" y="792.65" font-size="13.8" fill="#1a1a1a" stroke="#1a1a1a" stroke-width="0.2" text-anchor="middle">20 ft 7.4 in</text>
<text x="580.2" y="792.65" font-size="13.8" fill="#1a1a1a" stroke="#1a1a1a" stroke-width="0.2" text-anchor="middle">(6,285 mm)</text>
<text x="54" y="811.80" font-size="11.5" fill="#333" stroke="#333" stroke-width="0.25">K</text>
<text x="69.3" y="812.10" font-size="13.8" fill="#1a1a1a" stroke="#1a1a1a" stroke-width="0.2">Transport Height</text>
<text x="458.8" y="812.10" font-size="13.8" fill="#1a1a1a" stroke="#1a1a1a" stroke-width="0.2" text-anchor="middle">8 ft 11.4 in</text>
<text x="580.2" y="812.10" font-size="13.8" fill="#1a1a1a" stroke="#1a1a1a" stroke-width="0.2" text-anchor="middle">(2,725 mm)</text>
<rect x="48.5" y="817.25" width="722.5" height="19.2" fill="#d2d2d2"/>
<text x="54" y="831.25" font-size="11.5" fill="#333" stroke="#333" stroke-width="0.25">L</text>
<text x="69.3" y="831.55" font-size="13.8" fill="#1a1a1a" stroke="#1a1a1a" stroke-width="0.2">Ground Clearance</text>
<text x="458.8" y="831.55" font-size="13.8" fill="#1a1a1a" stroke="#1a1a1a" stroke-width="0.2" text-anchor="middle">1 ft 0.3 in</text>
<text x="582.0" y="831.55" font-size="13.8" fill="#1a1a1a" stroke="#1a1a1a" stroke-width="0.2" text-anchor="middle">(315 mm)</text>
<text x="54" y="850.70" font-size="11.5" fill="#333" stroke="#333" stroke-width="0.25">M</text>
<text x="69.3" y="851.00" font-size="13.8" fill="#1a1a1a" stroke="#1a1a1a" stroke-width="0.2">Undercarriage Length</text>
<text x="458.8" y="851.00" font-size="13.8" fill="#1a1a1a" stroke="#1a1a1a" stroke-width="0.2" text-anchor="middle">9 ft 4.4 in</text>
<text x="582.2" y="851.00" font-size="13.8" fill="#1a1a1a" stroke="#1a1a1a" stroke-width="0.2" text-anchor="middle">(2,855 mm)</text>
<rect x="48.5" y="856.15" width="722.5" height="19.2" fill="#d2d2d2"/>
<text x="54" y="870.15" font-size="11.5" fill="#333" stroke="#333" stroke-width="0.25">N</text>
<text x="69.3" y="870.45" font-size="13.8" fill="#1a1a1a" stroke="#1a1a1a" stroke-width="0.2">Track Width (Rubber)</text>
<text x="458.8" y="870.45" font-size="13.8" fill="#1a1a1a" stroke="#1a1a1a" stroke-width="0.2" text-anchor="middle">17.7 in</text>
<text x="580.5" y="870.45" font-size="13.8" fill="#1a1a1a" stroke="#1a1a1a" stroke-width="0.2" text-anchor="middle">(450 mm)</text>
<text x="54" y="889.60" font-size="11.5" fill="#333" stroke="#333" stroke-width="0.25">O</text>
<text x="69.3" y="889.90" font-size="13.8" fill="#1a1a1a" stroke="#1a1a1a" stroke-width="0.2">Undercarriage Width</text>
<text x="458.8" y="889.90" font-size="13.8" fill="#1a1a1a" stroke="#1a1a1a" stroke-width="0.2" text-anchor="middle">7 ft 7.0 in</text>
<text x="580.2" y="889.90" font-size="13.8" fill="#1a1a1a" stroke="#1a1a1a" stroke-width="0.2" text-anchor="middle">(2,300 mm)</text>
</svg>
</body></html>
